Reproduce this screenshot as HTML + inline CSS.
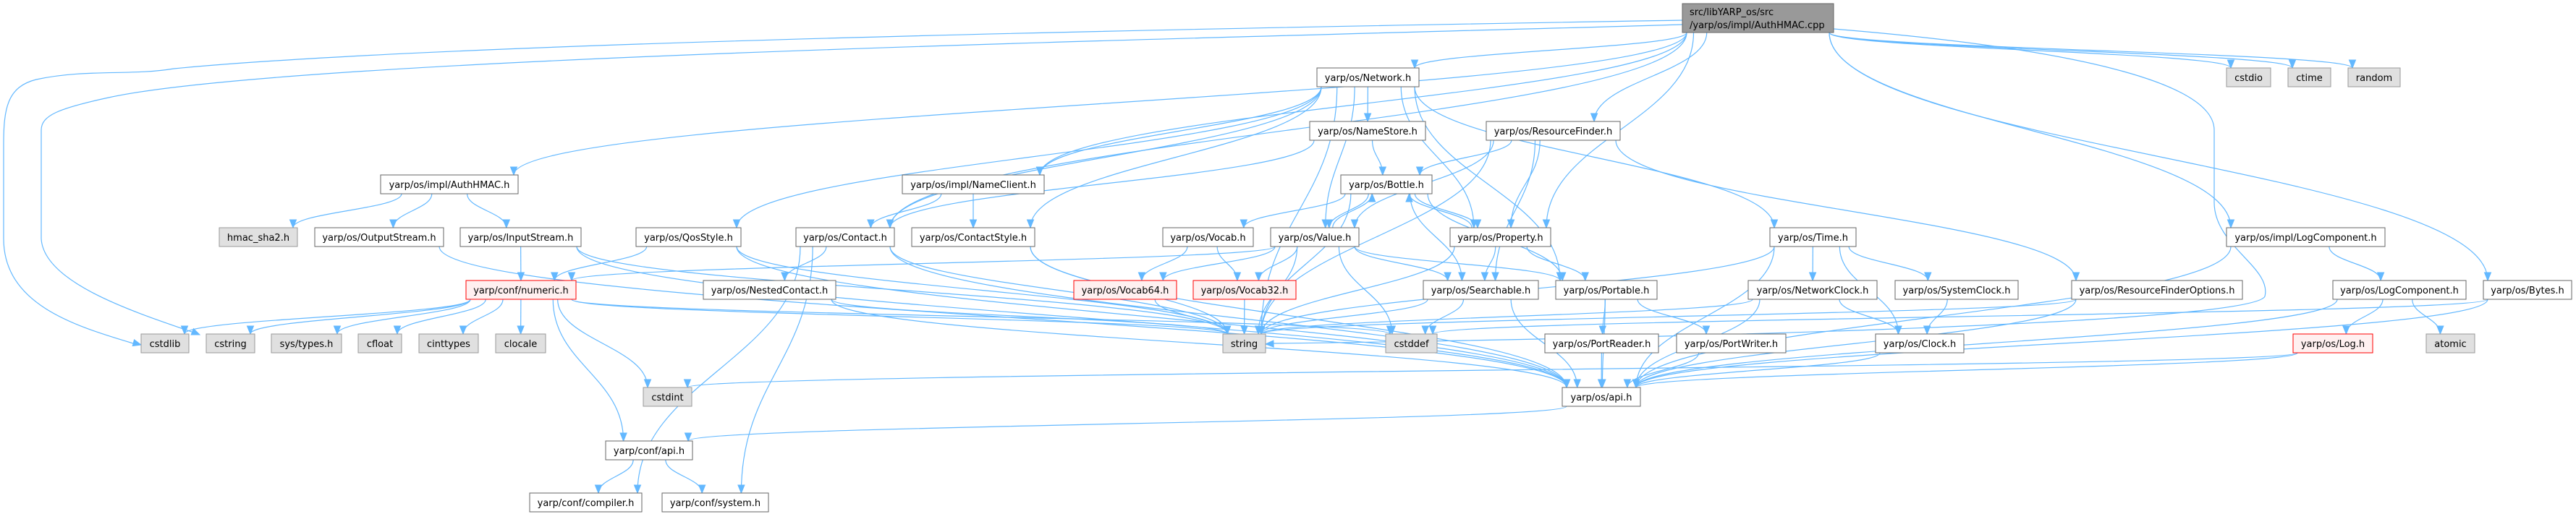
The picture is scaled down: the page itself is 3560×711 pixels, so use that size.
<!DOCTYPE html>
<html><head><meta charset="utf-8">
<style>
html,body{margin:0;padding:0;background:#fff;}
svg{display:block;}
text{font-family:"DejaVu Sans","Liberation Sans",sans-serif;font-size:13px;fill:#000;}
</style></head>
<body>
<svg id="g" xmlns="http://www.w3.org/2000/svg" width="3560" height="711" viewBox="0 0 3560 711">
<g id="edges" fill="none" stroke="#63b8ff" stroke-width="1.2"></g>
<g id="arrows" fill="#63b8ff" stroke="#63b8ff" stroke-width="1"></g>
<g id="nodes">
<rect x="2325" y="5" width="209" height="40" fill="#999" stroke="#666"/>
<text x="2335" y="21">src/libYARP_os/src</text>
<text x="2335" y="39">/yarp/os/impl/AuthHMAC.cpp</text>
</g>
</svg>
<script>
var N={
Network:[1820,1961,94,"yarp/os/Network.h",0],
cstdio:[3077,3138,94,"cstdio",1],
ctime:[3162,3221,94,"ctime",1],
random:[3245,3317,94,"random",1],
NameStore:[1810,1970,168,"yarp/os/NameStore.h",0],
RF:[2054,2239,168,"yarp/os/ResourceFinder.h",0],
AuthH:[526,716,242,"yarp/os/impl/AuthHMAC.h",0],
NameClient:[1247,1443,242,"yarp/os/impl/NameClient.h",0],
Bottle:[1853,1979,242,"yarp/os/Bottle.h",0],
hmac:[303,411,315,"hmac_sha2.h",1],
Out:[435,613,315,"yarp/os/OutputStream.h",0],
In:[636,803,315,"yarp/os/InputStream.h",0],
Qos:[879,1024,315,"yarp/os/QosStyle.h",0],
Contact:[1100,1236,315,"yarp/os/Contact.h",0],
CStyle:[1260,1430,315,"yarp/os/ContactStyle.h",0],
Vocab:[1607,1732,315,"yarp/os/Vocab.h",0],
Value:[1756,1878,315,"yarp/os/Value.h",0],
Property:[2004,2143,315,"yarp/os/Property.h",0],
Time:[2446,2565,315,"yarp/os/Time.h",0],
ILog:[3077,3296,315,"yarp/os/impl/LogComponent.h",0],
numeric:[644,796,388,"yarp/conf/numeric.h",2],
Nested:[972,1155,388,"yarp/os/NestedContact.h",0],
V64:[1484,1626,388,"yarp/os/Vocab64.h",2],
V32:[1649,1791,388,"yarp/os/Vocab32.h",2],
Search:[1967,2126,388,"yarp/os/Searchable.h",0],
Portable:[2150,2290,388,"yarp/os/Portable.h",0],
NClock:[2416,2594,388,"yarp/os/NetworkClock.h",0],
SClock:[2619,2789,388,"yarp/os/SystemClock.h",0],
RFO:[2863,3099,388,"yarp/os/ResourceFinderOptions.h",0],
LogC:[3224,3408,388,"yarp/os/LogComponent.h",0],
Bytes:[3432,3554,388,"yarp/os/Bytes.h",0],
cstdlib:[195,261,462,"cstdlib",1],
cstring:[285,352,462,"cstring",1],
systypes:[375,472,462,"sys/types.h",1],
cfloat:[495,555,462,"cfloat",1],
cinttypes:[579,661,462,"cinttypes",1],
clocale:[685,754,462,"clocale",1],
string:[1690,1749,462,"string",1],
cstddef:[1915,1986,462,"cstddef",1],
PR:[2135,2292,462,"yarp/os/PortReader.h",0],
PW:[2317,2468,462,"yarp/os/PortWriter.h",0],
Clock:[2592,2714,462,"yarp/os/Clock.h",0],
Log:[3169,3279,462,"yarp/os/Log.h",2],
atomic:[3353,3420,462,"atomic",1],
cstdint:[889,956,536,"cstdint",1],
api:[2159,2267,536,"yarp/os/api.h",0],
capi:[837,957,610,"yarp/conf/api.h",0],
compiler:[732,887,682,"yarp/conf/compiler.h",0],
system:[915,1062,682,"yarp/conf/system.h",0]
};
N.cpp=[2325,2534,5,"",0];
var H=26,NS="http://www.w3.org/2000/svg";
var gn=document.getElementById("nodes"),ge=document.getElementById("edges"),ga=document.getElementById("arrows");
function el(t,a,p){var e=document.createElementNS(NS,t);for(var k in a)e.setAttribute(k,a[k]);p.appendChild(e);return e;}
var sty=[["#fff","#666"],["#e0e0e0","#999"],["#fff0f0","#f00"]];
for(var k in N){if(k=="cpp")continue;var n=N[k];
el("rect",{x:n[0],y:n[2],width:n[1]-n[0],height:H,fill:sty[n[4]][0],stroke:sty[n[4]][1]},gn);
var t=el("text",{x:(n[0]+n[1])/2,y:n[2]+18,"text-anchor":"middle"},gn);t.textContent=n[3];}
function arrow(x,y,cx,cy){var dx=x-cx,dy=y-cy,l=Math.sqrt(dx*dx+dy*dy)||1;dx/=l;dy/=l;
var bx=x-dx*11,by=y-dy*11;
el("polygon",{points:x+","+y+" "+(bx-dy*4.5)+","+(by+dx*4.5)+" "+(bx+dy*4.5)+","+(by-dx*4.5)},ga);}
function edge(a,b){var s=N[a],t=N[b];var sh=(a=="cpp")?40:H;
var scx=(s[0]+s[1])/2,tcx=(t[0]+t[1])/2;
var sw=(s[1]-s[0])/2-6,tw=(t[1]-t[0])/2-6;
var sx=scx+Math.max(-sw,Math.min(sw,(tcx-scx)*0.25));
var tx=tcx+Math.max(-tw,Math.min(tw,(scx-tcx)*0.2));
var sy,ty,c1,c2;
if(t[2]>s[2]){sy=s[2]+sh;ty=t[2];var d=(ty-sy)*0.45;
c1=[sx,sy+d];c2=[tx,ty-d];}
else if(t[2]<s[2]){sy=s[2];ty=t[2]+H;var d=(sy-ty)*0.45;c1=[sx,sy-d];c2=[tx,ty+d];}
else{sy=s[2]+H/2;ty=t[2]+H/2;sx=tcx>scx?s[1]:s[0];tx=tcx>scx?t[0]:t[1];c1=[(sx+tx)/2,sy];c2=[(sx+tx)/2,ty];}
// shorten end
var ex=tx,ey=ty;
el("path",{d:"M"+sx+","+sy+" C"+c1[0]+","+c1[1]+" "+c2[0]+","+c2[1]+" "+ex+","+ey},ge);
arrow(ex,ey,c2[0],c2[1]);}
var E=[
["cpp","Network"],["cpp","AuthH"],["cpp","NameClient"],["cpp","RF"],["cpp","Property"],["cpp","cstdio"],["cpp","ctime"],["cpp","random"],["cpp","ILog"],["cpp","Bytes"],["cpp","Contact"],
["Network","NameStore"],["Network","Time"],["Network","Property"],["Network","Portable"],["Network","Value"],["Network","Contact"],["Network","CStyle"],["Network","NameClient"],["Network","Qos"],["Network","string"],
["RF","Bottle"],["RF","Property"],["RF","Search"],["RF","Value"],["RF","string"],["RF","RFO"],
["NameStore","Bottle"],["NameStore","Contact"],
["NameClient","Contact"],["NameClient","CStyle"],
["Bottle","Value"],["Bottle","Property"],["Bottle","Search"],["Bottle","Portable"],["Bottle","Vocab"],["Bottle","string"],
["Value","Bottle"],["Value","Search"],["Value","Portable"],["Value","cstddef"],["Value","string"],["Value","numeric"],["Value","V64"],["Value","V32"],
["Property","Bottle"],["Property","Search"],["Property","Portable"],["Property","string"],
["Vocab","V64"],["Vocab","V32"],["V64","string"],["V32","string"],
["Search","cstddef"],["Search","api"],["Search","string"],
["Portable","PR"],["Portable","PW"],["Portable","api"],["PR","api"],["PW","api"],
["Time","NClock"],["Time","SClock"],["Time","Clock"],["Time","string"],["Time","api"],
["NClock","Clock"],["NClock","api"],["NClock","string"],["SClock","Clock"],["Clock","api"],
["RFO","string"],["RFO","api"],
["ILog","LogC"],["ILog","api"],["LogC","Log"],["LogC","atomic"],["LogC","api"],
["Log","cstdint"],["Log","api"],["Bytes","api"],["Bytes","cstddef"],
["AuthH","hmac"],["AuthH","Out"],["AuthH","In"],
["Out","api"],["In","numeric"],["In","api"],["In","string"],
["Qos","numeric"],["Qos","api"],["Qos","string"],
["Contact","Nested"],["Contact","string"],["Contact","api"],["Contact","compiler"],["Contact","system"],
["CStyle","string"],["CStyle","api"],["Nested","string"],["Nested","api"],
["numeric","cstdlib"],["numeric","cstring"],["numeric","systypes"],["numeric","cfloat"],["numeric","cinttypes"],["numeric","clocale"],["numeric","cstdint"],["numeric","capi"],["numeric","string"],["numeric","cstddef"],
["api","capi"],["capi","compiler"],["capi","system"]
];
E.forEach(function(e){edge(e[0],e[1]);});
// long wrap-around edges from cpp to cstdlib / cstring
el("path",{d:"M2325,28 C1600,40 600,60 240,95 C180,105 120,95 50,110 C10,120 5,150 5,200 L5,330 C5,420 100,450 184,475"},ge);
arrow(195,477,150,465);
el("path",{d:"M2325,34 C1600,55 400,80 150,135 C80,150 57,160 57,180 L57,330 C60,390 180,430 268,460"},ge);
arrow(276,463,220,440);
// cpp -> string long curve
el("path",{d:"M2534,40 C2900,70 3060,120 3060,180 L3060,280 C3060,340 3140,370 3130,410 C3110,450 2200,470 1760,475"},ge);
arrow(1749,476,1800,474);
</script>
</body></html>
